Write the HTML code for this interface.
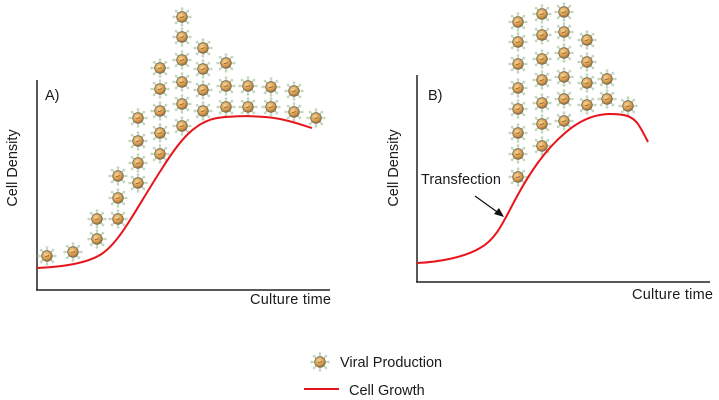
<!DOCTYPE html>
<html><head><meta charset="utf-8"><style>
html,body{margin:0;padding:0;background:#fff;}
svg{display:block;}
text{font-family:"Liberation Sans",sans-serif;fill:#1a1a1a;}
</style></head><body>
<svg width="719" height="400" viewBox="0 0 719 400" xmlns="http://www.w3.org/2000/svg">
<defs>
<radialGradient id="g" cx="0.4" cy="0.35" r="0.7">
<stop offset="0" stop-color="#f3d49a"/><stop offset="0.6" stop-color="#d99a4a"/><stop offset="1" stop-color="#8a6a3a"/>
</radialGradient>
<g id="v">
<g stroke="#a9b8a0" stroke-width="1.1">
<line x1="0" y1="-5" x2="0" y2="-8"/><line x1="0" y1="5" x2="0" y2="8"/>
<line x1="-5" y1="0" x2="-8" y2="0"/><line x1="5" y1="0" x2="8" y2="0"/>
<line x1="3.5" y1="3.5" x2="5.7" y2="5.7"/><line x1="-3.5" y1="3.5" x2="-5.7" y2="5.7"/>
<line x1="3.5" y1="-3.5" x2="5.7" y2="-5.7"/><line x1="-3.5" y1="-3.5" x2="-5.7" y2="-5.7"/>
</g>
<g fill="#c3d8bc">
<circle cx="0" cy="-8.3" r="1.4"/><circle cx="0" cy="8.3" r="1.4"/><circle cx="-8.3" cy="0" r="1.4"/><circle cx="8.3" cy="0" r="1.4"/>
<circle cx="5.9" cy="5.9" r="1.4"/><circle cx="-5.9" cy="5.9" r="1.4"/><circle cx="5.9" cy="-5.9" r="1.4"/><circle cx="-5.9" cy="-5.9" r="1.4"/>
</g>
<circle r="5.3" fill="url(#g)" stroke="#6f6a50" stroke-width="0.8"/>
<line x1="-2" y1="0.8" x2="2" y2="-0.4" stroke="#8a5a30" stroke-width="0.8"/>
</g>
</defs>

<!-- Panel A axes -->
<line x1="37" y1="80" x2="37" y2="290" stroke="#222" stroke-width="1.5"/>
<line x1="36" y1="290" x2="330" y2="290" stroke="#222" stroke-width="1.5"/>
<text x="45" y="100" font-size="14.5">A)</text>
<text x="250" y="304" font-size="14.5" textLength="81">Culture time</text>
<text transform="translate(17,168) rotate(-90)" font-size="14.5" text-anchor="middle">Cell Density</text>

<g>
<use href="#v" x="47" y="256"/><use href="#v" x="73" y="252"/>
<use href="#v" x="97" y="219"/><use href="#v" x="97" y="239"/>
<use href="#v" x="118" y="176"/><use href="#v" x="118" y="198"/><use href="#v" x="118" y="219"/>
<use href="#v" x="138" y="118"/><use href="#v" x="138" y="141"/><use href="#v" x="138" y="163"/><use href="#v" x="138" y="183"/>
<use href="#v" x="160" y="68"/><use href="#v" x="160" y="89"/><use href="#v" x="160" y="111"/><use href="#v" x="160" y="133"/><use href="#v" x="160" y="154"/>
<use href="#v" x="182" y="17"/><use href="#v" x="182" y="37"/><use href="#v" x="182" y="60"/><use href="#v" x="182" y="82"/><use href="#v" x="182" y="104"/><use href="#v" x="182" y="126"/>
<use href="#v" x="203" y="48"/><use href="#v" x="203" y="69"/><use href="#v" x="203" y="90"/><use href="#v" x="203" y="111"/>
<use href="#v" x="226" y="63"/><use href="#v" x="226" y="86"/><use href="#v" x="226" y="107"/>
<use href="#v" x="248" y="86"/><use href="#v" x="248" y="107"/>
<use href="#v" x="271" y="87"/><use href="#v" x="271" y="107"/>
<use href="#v" x="294" y="91"/><use href="#v" x="294" y="112"/>
<use href="#v" x="316" y="118"/>
</g>
<path d="M37,268 C60,267 85,264 100,255 C120,243 135,210 163,167 C180,140 195,122 217,118 C240,115 265,116 280,119 C295,122 305,126 312,128" fill="none" stroke="#e8141c" stroke-width="2"/>

<!-- Panel B axes -->
<line x1="417" y1="75" x2="417" y2="282" stroke="#222" stroke-width="1.5"/>
<line x1="416" y1="282" x2="710" y2="282" stroke="#222" stroke-width="1.5"/>
<text x="428" y="100" font-size="14.5">B)</text>
<text x="632" y="299" font-size="14.5" textLength="81">Culture time</text>
<text transform="translate(398,168) rotate(-90)" font-size="14.5" text-anchor="middle">Cell Density</text>
<text x="421" y="184" font-size="14.5" textLength="80">Transfection</text>
<line x1="475" y1="196" x2="500" y2="214" stroke="#111" stroke-width="1.2"/>
<polygon points="504,217 494,214 499,208" fill="#111"/>

<g>
<use href="#v" x="518" y="22"/><use href="#v" x="518" y="42"/><use href="#v" x="518" y="64"/><use href="#v" x="518" y="88"/><use href="#v" x="518" y="109"/><use href="#v" x="518" y="133"/><use href="#v" x="518" y="154"/><use href="#v" x="518" y="177"/>
<use href="#v" x="542" y="14"/><use href="#v" x="542" y="35"/><use href="#v" x="542" y="59"/><use href="#v" x="542" y="80"/><use href="#v" x="542" y="103"/><use href="#v" x="542" y="124"/><use href="#v" x="542" y="146"/>
<use href="#v" x="564" y="12"/><use href="#v" x="564" y="32"/><use href="#v" x="564" y="53"/><use href="#v" x="564" y="77"/><use href="#v" x="564" y="99"/><use href="#v" x="564" y="121"/>
<use href="#v" x="587" y="40"/><use href="#v" x="587" y="62"/><use href="#v" x="587" y="83"/><use href="#v" x="587" y="105"/>
<use href="#v" x="607" y="79"/><use href="#v" x="607" y="99"/>
<use href="#v" x="628" y="106"/>
</g>
<path d="M417,263 C440,262 465,257 480,248 C495,240 502,225 515,200 C530,172 545,150 565,133 C580,120 595,114 610,114 C625,114 632,116 638,124 C642,130 645,136 648,142" fill="none" stroke="#e8141c" stroke-width="2"/>

<!-- Legend -->
<use href="#v" x="320" y="362"/>
<text x="340" y="367" font-size="14.5">Viral Production</text>
<line x1="304" y1="389" x2="339" y2="389" stroke="#e8141c" stroke-width="2"/>
<text x="349" y="395" font-size="14.5">Cell Growth</text>
</svg>
</body></html>
